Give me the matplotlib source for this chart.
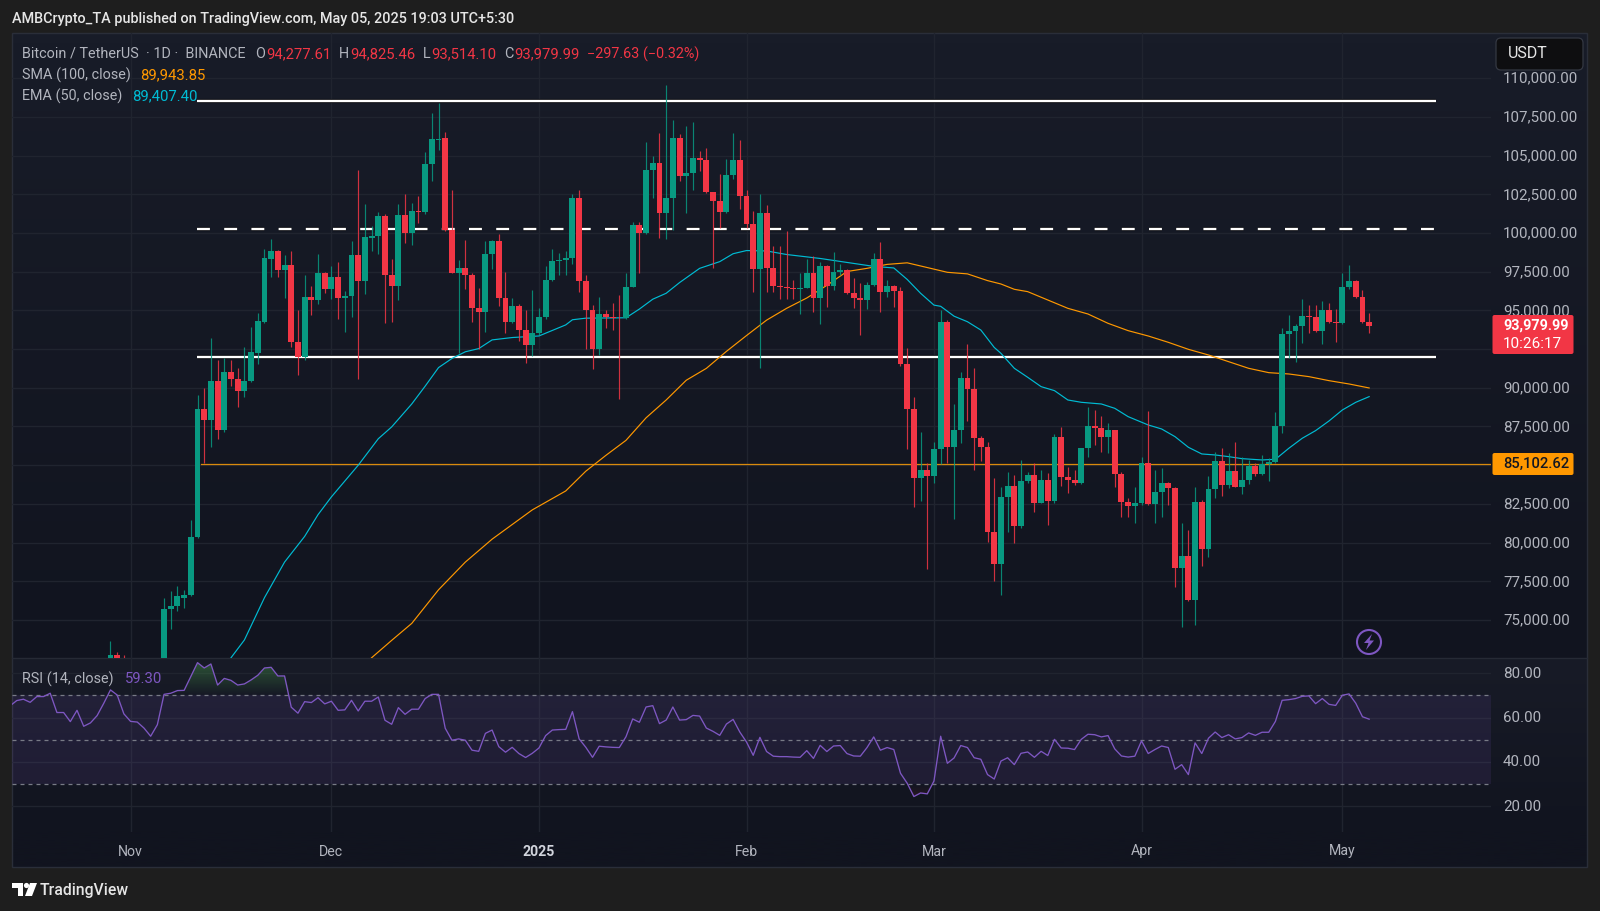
import numpy as np
import pandas as pd
import matplotlib
matplotlib.use('Agg')
import matplotlib.pyplot as plt
import matplotlib.patheffects as pe
from matplotlib.patches import Rectangle, FancyBboxPatch, Circle, Polygon
from matplotlib.colors import to_rgb
from matplotlib.transforms import ScaledTranslation

plt.rcParams['font.family'] = ['Roboto', 'DejaVu Sans']

# daily candles, 29 Oct 2024 to 5 May 2025 (the first few sit below the visible range)
opens = [
    71700, 72739, 72344,
    70292, 69496, 69374, 68775, 67811, 69359, 75700, 75880, 76400, 76646,
    80350, 88624, 87935, 90412, 87296, 91025, 90590, 89825, 90437, 92277,
    94268, 98304, 98866, 97640, 97946, 92966, 91970, 95852, 95648, 97436,
    96414, 97129, 95827, 95903, 98610, 96925, 99683, 99811, 101088, 97257,
    96567, 101164, 99989, 101420, 101370, 104485, 106000, 106145, 100194, 97385,
    97768, 97257, 95163, 94881, 98662, 99479, 95776, 94268, 95290, 93732, 92736,
    93554, 94575, 96950, 98202, 98280, 98355, 102288, 96925, 95035, 92532,
    94754, 94576, 94500, 94480, 96542, 100526, 99990, 104076, 104536, 101267,
    102237, 106145, 103693, 103897, 104843, 104740, 102620, 102058, 101343, 103718, 104715,
    102416, 100577, 97691, 101292, 97717, 96567, 96516, 96470, 96400, 96470,
    97436, 95776, 97870, 96567, 97487, 97590, 96107, 95776, 95673, 96670,
    98304, 96158, 96567, 96260, 91511, 88650, 84205, 84717,
    84308, 86019, 94268, 86147, 87245, 90617, 89900, 86785, 86198, 80706,
    78613, 82927, 83659, 81097, 83982, 84369, 82582, 84046, 82690, 86845,
    84219, 84046, 83831, 86092, 87534, 87384, 86845, 87276, 84412, 82625, 82367,
    82539, 85166, 82496, 83250, 83874, 83551, 78384, 79159, 76296, 82604,
    79590, 83465, 85295, 83723, 84628, 83615, 84046, 84951, 84412, 85080,
    85209, 87534, 93455, 93670, 93993, 94639, 94553, 93692, 95005, 94230,
    94165, 96491, 96921, 95845, 94277.61,
]
highs = [
    73632, 72943, 72739,
    71600, 69900, 69500, 69000, 70500, 76390, 76876, 77207, 76954, 81473,
    89518, 89978, 93247, 91766, 91893, 91766, 91255, 92609, 93936, 94830,
    98993, 99632, 98917, 98559, 98840, 95035, 97257, 96567, 98636, 97512,
    97844, 98150, 96235, 99480, 104076, 101854, 100450, 101343, 101215, 98330,
    101905, 102543, 101930, 102365, 105225, 107728, 108366, 106502, 102799, 98227,
    99555, 97436, 96440, 99505, 99555, 99939, 97512, 95776, 95400, 95035, 96286,
    95137, 97895, 98968, 98738, 98840, 102492, 102748, 97257, 95341, 95852,
    95035, 95469, 95980, 97385, 100705, 100705, 105889, 104970, 106451, 109593,
    107268, 106400, 106885, 107141, 105302, 105506, 102620, 103820, 104791, 106451, 106017,
    102799, 101420, 102492, 101777, 99172, 99172, 100143, 96950, 97385, 98330,
    98483, 98150, 97946, 98789, 97972, 97691, 97078, 96746, 96823, 98713,
    99428, 96950, 96670, 96491, 92583, 89416, 87117, 85125,
    86530, 95035, 94400, 88956, 91000, 92838, 91255, 86913, 86530, 84155,
    83593, 84563, 84359, 85338, 84585, 85123, 84692, 84477, 86996, 87491,
    84907, 84692, 86092, 88783, 88568, 88202, 87750, 87300, 84585, 82860, 83573,
    85553, 88503, 84692, 84800, 83939, 83616, 81247, 80817, 83616, 82755,
    84304, 85876, 86092, 85769, 86523, 85510, 85338, 85123, 85661, 85446,
    88460, 93886, 94704, 94100, 95716, 95350, 95350, 95630, 95457, 95070,
    97438, 97912, 96950, 96318, 94825.46,
]
lows = [
    71400, 71400, 69700,
    68800, 68900, 67500, 66800, 67500, 68800, 74450, 75600, 75750, 76519,
    80272, 85125, 86198, 86709, 87169, 90106, 88778, 89416, 90361, 91562,
    94192, 97129, 97129, 95775, 92660, 90820, 91817, 94677, 95393, 96107,
    95724, 94447, 93604, 94575, 90540, 96031, 98866, 98662, 94192, 94268,
    95673, 99351, 99223, 100628, 101215, 103335, 105353, 100143, 97385, 92276,
    96414, 94268, 92532, 93604, 97691, 95290, 93554, 94192, 93043, 91587, 92072,
    93426, 94447, 96874, 97308, 97308, 97972, 96184, 92532, 91203, 92149,
    93860, 93732, 89288, 94447, 96491, 97385, 99939, 102288, 99683, 99606,
    100194, 103335, 101267, 102748, 103974, 102569, 97768, 100322, 101292, 103514, 101547,
    100322, 96184, 91255, 96184, 96158, 95724, 95724, 95724, 94780, 96440,
    94907, 94141, 95214, 96312, 97257, 96056, 95137, 93426, 95086, 96567,
    94907, 95852, 95214, 91434, 86019, 82316, 82699, 78281,
    83848, 85074, 85125, 81499, 86402, 87858, 84691, 85253, 80018, 77514,
    76646, 80655, 79967, 80924, 83831, 81999, 82539, 81140, 82582, 83680,
    83185, 83723, 83788, 85553, 86307, 85876, 85769, 83616, 81678, 81635, 81290,
    82432, 82432, 81247, 81678, 82432, 77157, 74530, 76250, 74681, 78492,
    79051, 82862, 83013, 83508, 83572, 83141, 83766, 84304, 84369, 84003,
    85166, 87104, 91905, 91690, 92917, 93563, 93600, 92831, 94165, 92981,
    94100, 96383, 95780, 94209, 93514.10,
]
closes = [
    72739, 72344, 70292,
    69496, 69374, 68775, 67811, 69359, 75700, 75880, 76519, 76646, 80350,
    88624, 87935, 90412, 87296, 91025, 90590, 89825, 90437, 92327, 94320,
    98355, 98866, 97640, 97946, 92966, 91970, 95852, 95648, 97436, 96414,
    97129, 95827, 95903, 98610, 96925, 99734, 99811, 101088, 97257, 96567,
    101164, 99989, 101420, 101370, 104485, 106068, 106068, 100194, 97385, 97768,
    97257, 95163, 94881, 98662, 99479, 95776, 94268, 95290, 93732, 92736, 93554,
    94575, 96950, 98202, 98280, 98355, 102288, 96925, 95035, 92532, 94754,
    94576, 94500, 94480, 96542, 100526, 99990, 104076, 104536, 101267, 102237,
    106145, 103693, 103897, 104843, 104740, 102620, 102058, 101343, 103718, 104715, 102416,
    100577, 97691, 101292, 97717, 96567, 96516, 96470, 96400, 96470, 97436,
    95776, 97870, 96567, 97487, 97590, 96107, 95776, 95673, 96670, 98304,
    96158, 96567, 96260, 91511, 88650, 84205, 84717, 84308,
    86019, 94268, 86147, 87245, 90617, 89900, 86785, 86198, 80706, 78613,
    82927, 83659, 81097, 83982, 84369, 82582, 84046, 82690, 86845, 84219,
    84046, 83831, 86092, 87534, 87384, 86845, 87276, 84412, 82625, 82367, 82539,
    85166, 82496, 83250, 83874, 83551, 78384, 79159, 76296, 82604, 79590,
    83465, 85295, 83723, 84628, 83615, 84046, 84951, 84412, 85080, 85209,
    87534, 93455, 93670, 93993, 94639, 94553, 93692, 95005, 94230, 94165,
    96491, 96921, 95845, 94230, 93979.99,
]

# moving averages, read at day offsets from 1 Nov 2024
ema_days = [14, 15, 17, 20, 23, 26, 28, 30, 34, 37, 39, 42, 44, 46, 48, 50, 52, 54, 57, 61,
            65, 66, 68, 74, 76, 78, 80, 82, 85, 88, 90, 92, 95, 98, 103, 107, 111, 114, 116,
            118, 120, 121, 123, 125, 127, 129, 130, 132, 134, 136, 138, 140, 142, 145, 147,
            149, 152, 154, 156, 158, 160, 162, 164, 166, 169, 171, 173, 175, 177, 179, 181, 183, 185]
ema_vals = [71500, 72560, 73708, 76442, 78740, 80400, 81805, 82954, 84997, 86708, 87474, 88956,
            90106, 91306, 91893, 92327, 92532, 93094, 93247, 93349, 94064, 94396, 94498, 94524,
            95086, 95724, 96107, 96797, 97717, 98150, 98662, 98866, 98840, 98610, 98355, 98099,
            97844, 97742, 97001, 96107, 95341, 95265, 94626, 94268, 93732, 92608, 92228, 91259,
            90678, 90075, 89816, 89213, 89063, 88955, 88675, 88137, 87599, 87341, 86845, 86157,
            85726, 85661, 85554, 85424, 85338, 85381, 86092, 86738, 87233, 87857, 88568, 89063, 89429]
sma_days = [35, 36, 39, 42, 46, 50, 54, 60, 65, 68, 71, 74, 77, 80, 83, 86, 89, 92, 95, 98, 101,
            104, 107, 110, 113, 116, 119, 122, 125, 128, 130, 132, 134, 137, 140, 143, 146, 149,
            152, 155, 158, 161, 164, 167, 170, 173, 176, 179, 182, 185]
sma_vals = [72100, 72560, 73684, 74781, 76952, 78740, 80222, 82112, 83337, 84614, 85636, 86606,
            88062, 89212, 90488, 91255, 92353, 93375, 94371, 95137, 95801, 96618, 97512, 97717,
            97972, 98074, 97768, 97461, 97359, 96925, 96706, 96363, 96211, 95672, 95134, 94768,
            94165, 93692, 93347, 92938, 92486, 92120, 91690, 91259, 90979, 90893, 90721, 90462,
            90247, 89989]

# RSI (14), one value per day, ending 5 May
rsi_vals = [
    63.9,
    65.3, 67.7, 68.3, 66.9, 69.5, 69.5, 71.0, 62.3, 62.3, 58.2, 63.3, 56.1, 57.6, 60.9, 66.5,
    72.5, 70.2, 61.7, 58.3, 58.0, 55.3, 51.6, 56.8, 70.5, 71.0, 72.2, 72.3, 78.5, 84.8, 82.4,
    84.2, 74.7, 77.7, 76.8, 74.7, 75.2, 77.0, 79.1, 82.4, 82.7, 78.8, 78.8, 64.7, 62.0, 67.2,
    66.8, 69.0, 66.2, 67.4, 63.3, 63.5, 67.8, 63.0, 67.4, 67.4, 69.3, 58.8, 57.0, 64.5, 61.5,
    63.8, 63.8, 68.6, 70.5, 70.5, 55.2, 49.8, 50.4, 49.8, 45.3, 44.8, 52.9, 54.4, 46.9, 44.4,
    46.6, 43.8, 42.0, 43.9, 46.3, 51.9, 54.4, 54.6, 54.7, 62.7, 50.4, 46.6, 42.1, 47.1, 46.8,
    46.6, 46.5, 51.4, 59.4, 57.9, 64.8, 65.4, 57.3, 58.9, 64.8, 58.9, 59.1, 61.0, 60.7, 55.3,
    53.8, 52.0, 57.1, 59.2, 53.5, 49.0, 43.0, 51.1, 44.7, 42.6, 42.4, 42.4, 42.2,
    42.1, 45.1, 41.6, 47.5, 44.7, 47.2, 47.4, 43.8, 42.7, 42.6, 46.5, 51.3, 45.3, 46.5, 45.6,
    34.9, 30.4, 24.4, 26.0, 25.6, 31.4, 51.6, 39.4, 41.8, 47.4, 46.5, 41.9, 41.2, 34.3, 32.3,
    40.4, 41.9, 38.8, 43.9, 44.5, 42.1, 44.8, 42.9, 50.2, 46.3, 46.2, 45.6, 50.2, 52.5, 52.3,
    51.3, 51.9, 45.9, 42.7, 42.2, 42.6, 49.5, 43.8, 45.6, 47.2, 46.5, 36.7, 38.8, 34.3, 48.6,
    43.8, 50.7, 53.5, 51.0, 52.3, 50.4, 51.0, 53.1, 52.0, 53.4, 53.4, 58.3, 67.8, 68.1, 68.6,
    69.6, 69.8, 66.3, 68.6, 66.0, 65.5, 70.1, 70.7, 66.5, 60.4, 59.3,
]

price_ticks = [75000, 77500, 80000, 82500, 85000, 87500, 90000, 92500, 95000, 97500,
               100000, 102500, 105000, 107500, 110000]
hidden_ticks = [85000, 92500]  # covered by the price tags
rsi_ticks = [20, 40, 60, 80]
rsi_levels = [30, 50, 70]
month_names = ['Nov', 'Dec', '2025', 'Feb', 'Mar', 'Apr', 'May']
month_starts = ['2024-11-01', '2024-12-01', '2025-01-01', '2025-02-01', '2025-03-01', '2025-04-01', '2025-05-01']
level_solid = [108520, 91970]
level_dash = 100245
level_orange = 85102.62

BG = '#1e1e1e'
UP = '#089981'
DOWN = '#f23645'
GRID = '#20242f'
TEXT = '#b2b5be'
ORANGE = '#ff9800'
CYAN = '#00bcd4'
PURPLE = '#7e57c2'

W, H = 1600, 911
fig = plt.figure(figsize=(W / 100, H / 100), dpi=100, facecolor=BG)


def box(left, top, right, bottom, **kw):
    return fig.add_axes([left / W, 1 - bottom / H, (right - left) / W, (bottom - top) / H], **kw)


def lift_labels(axis_labels, px):
    shift = ScaledTranslation(0, px / 100, fig.dpi_scale_trans)
    for lab in axis_labels:
        lab.set_transform(lab.get_transform() + shift)


# background layer in pixel coordinates
bg = box(0, 0, W, H, zorder=0)
bg.set_xlim(0, W)
bg.set_ylim(H, 0)
bg.axis('off')


def pane_shade(top, bottom, c1, c2):
    ramp = np.linspace(0, 1, 64)[:, None, None] * (np.array(to_rgb(c2)) - np.array(to_rgb(c1))) + np.array(to_rgb(c1))
    bg.imshow(ramp, extent=(12, 1587, bottom, top), aspect='auto', zorder=1)


pane_shade(33, 658, '#181c28', '#11141f')
pane_shade(658, 832, '#181b27', '#11141f')
pane_shade(832, 867, '#11141f', '#11141f')
bg.set_xlim(0, W)
bg.set_ylim(H, 0)
bg.add_patch(Rectangle((12, 33), 1575, 834, fill=False, ec='#2a2e39', lw=1, zorder=3))
bg.plot([12, 1587], [658, 658], color='#262a35', lw=1, zorder=3)

dates = pd.date_range('2024-10-29', periods=len(opens))
origin = pd.Timestamp('2024-11-01')
days = np.array((dates - origin).days)
month_x = [(pd.Timestamp(m) - origin).days for m in month_starts]
xlim = (-17.71, 203.2)

# price pane
ax = box(12, 33, 1491, 658, zorder=2, facecolor='none')
ax.set_xlim(*xlim)
ax.set_ylim(72545, 112920)
ax.yaxis.tick_right()
ax.set_yticks(price_ticks)
ax.set_yticklabels(['' if p in hidden_ticks else f'{p:,.2f}' for p in price_ticks])
ax.set_xticks(month_x)
ax.tick_params(axis='x', length=0, labelbottom=False)
ax.tick_params(axis='y', length=0, labelcolor=TEXT, labelsize=10.9, pad=8.6)
lift_labels(ax.get_yticklabels(), 1)
ax.grid(True, color=GRID, lw=1)
ax.set_axisbelow(True)
for s in ax.spines.values():
    s.set_visible(False)

shadow = [pe.withStroke(linewidth=3.0, foreground='#05060a')]
for lvl in level_solid:
    ax.plot([9.92, 195], [lvl, lvl], color='white', lw=1.7, zorder=3, path_effects=shadow, solid_capstyle='butt')
ax.plot([9.92, 195], [level_dash, level_dash], color='white', lw=1.7, zorder=3, linestyle=(0, (5.47, 6.05)),
        path_effects=shadow, dash_capstyle='butt')
ax.plot([10.5, xlim[1]], [level_orange, level_orange], color='#d98a0c', lw=0.9, zorder=3)

ax.plot(sma_days, sma_vals, color=ORANGE, lw=0.85, zorder=4)
ax.plot(ema_days, ema_vals, color=CYAN, lw=0.85, zorder=4)

o = np.array(opens)
c = np.array(closes)
colors = [UP if b >= a else DOWN for a, b in zip(o, c)]
ax.vlines(days, lows, highs, colors=colors, lw=0.85, zorder=5, alpha=0.85)
ax.bar(days, np.maximum(np.abs(c - o), 40), bottom=np.minimum(o, c), width=0.88, color=colors, zorder=6, lw=0)

# RSI pane
ax2 = box(12, 658, 1491, 832, zorder=2, facecolor='none')
ax2.set_xlim(*xlim)
ax2.set_ylim(8.4, 86.9)
ax2.yaxis.tick_right()
ax2.set_yticks(rsi_ticks)
ax2.set_yticklabels([f'{v:.2f}' for v in rsi_ticks])
ax2.set_xticks(month_x)
ax2.set_xticklabels(month_names)
ax2.tick_params(axis='x', length=0, labelcolor=TEXT, labelsize=10.2, pad=9)
ax2.tick_params(axis='y', length=0, labelcolor=TEXT, labelsize=10.9, pad=8.6)
lift_labels(ax2.get_yticklabels(), 1)
ax2.get_xticklabels()[2].set_color('#d1d4dc')
ax2.get_xticklabels()[2].set_fontweight('bold')
ax2.grid(True, color=GRID, lw=1)
ax2.set_axisbelow(True)
for s in ax2.spines.values():
    s.set_visible(False)

ax2.axhspan(rsi_levels[0], rsi_levels[2], color=PURPLE, alpha=0.12, lw=0, zorder=1)
for lvl in rsi_levels:
    ax2.axhline(lvl, color='#787b86', lw=0.9, linestyle=(0, (3.2, 3.2)), zorder=2)

rsi = np.array(rsi_vals)
rsi_x = days[-1] - np.arange(len(rsi))[::-1]

for base, edge, rgb, strength, clipper in [(70, 86, (0.30, 0.69, 0.31), 0.42, np.maximum),
                                           (30, 22, (0.95, 0.21, 0.27), 0.14, np.minimum)]:
    area = ax2.fill_between(rsi_x, base, clipper(rsi, base), color='none', lw=0)
    alpha = np.linspace(0, strength, 48) if edge > base else np.linspace(strength, 0, 48)
    grad = np.zeros((48, 2, 4))
    grad[..., :3] = rgb
    grad[..., 3] = alpha[:, None]
    im = ax2.imshow(grad, extent=(xlim[0], xlim[1], min(base, edge), max(base, edge)), origin='lower',
                    aspect='auto', zorder=3)
    im.set_clip_path(area.get_paths()[0], ax2.transData)
ax2.set_xlim(*xlim)
ax2.set_ylim(8.4, 86.9)
ax2.plot(rsi_x, rsi, color=PURPLE, lw=0.95, zorder=4)

# overlay in pixel coordinates: legend, labels, logo
ov = box(0, 0, W, H, zorder=5, facecolor='none')
ov.set_xlim(0, W)
ov.set_ylim(H, 0)
ov.axis('off')


def label(x, y, s, color=TEXT, size=10.7, **kw):
    ov.text(x, y, s, color=color, fontsize=size, va='center', **kw)


label(12, 19.5, 'AMBCrypto_TA published on TradingView.com, May 05, 2025 19:03 UTC+5:30', color='#e6e6e6', size=10.4, fontweight='medium')
label(22, 54, 'Bitcoin / TetherUS  · 1D ·  BINANCE', size=10.4)
for x, key, vx, val in [(255, 'O', 266, '94,277.61'), (339, 'H', 350, '94,825.46'),
                        (423, 'L', 431, '93,514.10'), (504, 'C', 514, '93,979.99')]:
    label(x, 54, key, size=10.4)
    label(vx, 54, val, color=DOWN)
label(587, 54, '−297.63 (−0.32%)', color=DOWN, size=10.4)
label(22, 75, 'SMA (100, close)', size=10.4)
label(140, 75, '89,943.85', color=ORANGE)
label(22, 96, 'EMA (50, close)', size=10.4)
label(132, 96, '89,407.40', color=CYAN)
label(22, 679, 'RSI (14, close)', size=10.4)
label(125, 679, '59.30', color=PURPLE)

ov.add_patch(FancyBboxPatch((1496, 38), 87, 32, boxstyle='round,pad=0,rounding_size=5', fc='#0e0e10', ec='#343842', lw=0.9))
label(1508, 54, 'USDT', color='#e6e6e6', size=11.5)

ov.add_patch(FancyBboxPatch((1492.5, 315), 81, 39, boxstyle='round,pad=0,rounding_size=2', fc=DOWN, ec='none'))
label(1503, 325.5, '93,979.99', color='white', size=10.4, fontweight='bold')
label(1503, 344, '10:26:17', color='white', size=11)
ov.add_patch(FancyBboxPatch((1492.5, 453), 81, 22, boxstyle='round,pad=0,rounding_size=2', fc=ORANGE, ec='none'))
label(1503, 464, '85,102.62', color='#131722', size=10.6, fontweight='medium')

ov.add_patch(Circle((1369, 642), 12, fill=False, ec=PURPLE, lw=1.5))
ov.add_patch(Polygon([(1372, 634), (1364, 643), (1368.5, 643), (1366, 650), (1374, 640.5), (1369.5, 640.5)], fc=PURPLE, ec='none'))

# TradingView mark
ov.add_patch(Polygon([(12, 883), (23, 883), (23, 896), (18, 896), (18, 888), (12, 888)], fc='white', ec='none'))
ov.add_patch(Circle((26.5, 885.5), 2.6, fc='white', ec='none'))
ov.add_patch(Polygon([(30, 883), (37, 883), (32, 896), (25, 896)], fc='white', ec='none'))
label(40, 890.5, 'TradingView', color='#e6e6e6', size=11.3, fontweight='medium')

fig.savefig('out.png', dpi=100, facecolor=BG)
